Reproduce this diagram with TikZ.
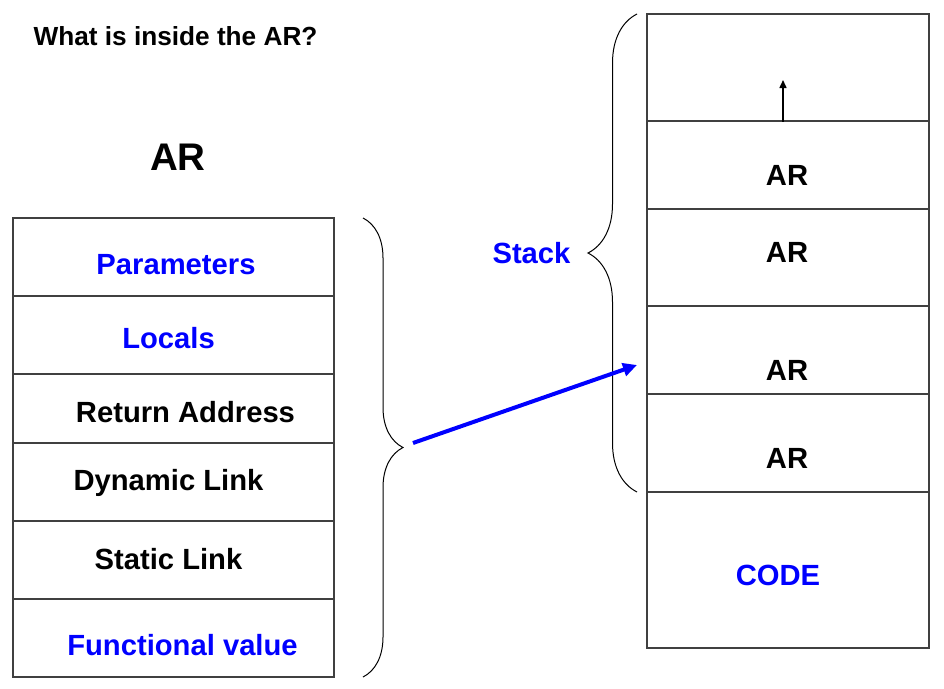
\documentclass[tikz,border=0pt]{standalone}
\usepackage{fontspec}
\setmainfont{Liberation Sans}
\usetikzlibrary{arrows.meta,decorations.pathreplacing}
\begin{document}
\begin{tikzpicture}[x=1pt,y=-1pt]
\tikzset{cellule/.style={draw=black!75, line width=1.2pt, inner sep=0pt},
  texte/.style={anchor=base, inner sep=0pt, font=\fontsize{29.2}{31}\selectfont\bfseries},
  bleu/.style={texte, text=blue},
  accolade/.style={decorate, decoration={brace, amplitude=#1}, line width=1pt}}
\useasboundingbox (0,0) rectangle (944,688);
\node[anchor=base, inner sep=0pt, font=\fontsize{26.2}{28}\selectfont\bfseries] (titre) at (175.5,45) {What is inside the AR?};
\node[anchor=base, inner sep=0pt, font=\fontsize{38.5}{40}\selectfont\bfseries] (grandAR) at (178,170) {AR};
% the AR
\node[cellule, minimum width=321, minimum height=78] (C1) at (173.5,257) {};
\node[cellule, minimum width=321, minimum height=78] (C2) at (173.5,335) {};
\node[cellule, minimum width=321, minimum height=69] (C3) at (173.5,408.5) {};
\node[cellule, minimum width=321, minimum height=78] (C4) at (173.5,482) {};
\node[cellule, minimum width=321, minimum height=78] (C5) at (173.5,560) {};
\node[cellule, minimum width=321, minimum height=78] (C6) at (173.5,638) {};
\node[bleu] (T1) at (176,274) {Parameters};
\node[bleu] (T2) at (168.5,348) {Locals};
\node[texte] (T3) at (185.5,422) {Return Address};
\node[texte] (T4) at (168.5,490) {Dynamic Link};
\node[texte] (T5) at (168.5,569) {Static Link};
\node[bleu] (T6) at (182.5,655) {Functional value};
% the stack
\node[cellule, minimum width=282, minimum height=107] (S0) at (788,67.5) {};
\node[cellule, minimum width=282, minimum height=88] (S1) at (788,165) {};
\node[cellule, minimum width=282, minimum height=97] (S2) at (788,257.5) {};
\node[cellule, minimum width=282, minimum height=88] (S3) at (788,350) {};
\node[cellule, minimum width=282, minimum height=98] (S4) at (788,443) {};
\node[cellule, minimum width=282, minimum height=156] (S5) at (788,570) {};
\node[texte] (A1) at (787,185) {AR};
\node[texte] (A2) at (787,262) {AR};
\node[texte] (A3) at (787,380) {AR};
\node[texte] (A4) at (787,468) {AR};
\node[bleu] (code) at (778,585) {CODE};
\node[bleu] (pile) at (531.5,263) {Stack};
\coordinate (haut) at (783,80);
\draw[line width=1.5pt, -{Triangle[length=8pt,width=7pt]}] (S0.south -| haut) -- (haut);
% braces
\draw[accolade=40] (363,218) -- (363,677);
\draw[accolade=49] (637,492) -- (637,14);
\coordinate (depart) at (413,443);
\coordinate (arrivee) at (637,365);
\draw[blue, line width=4pt, -{Triangle[length=14pt,width=13pt]}] (depart) -- (arrivee);
\end{tikzpicture}
\end{document}
